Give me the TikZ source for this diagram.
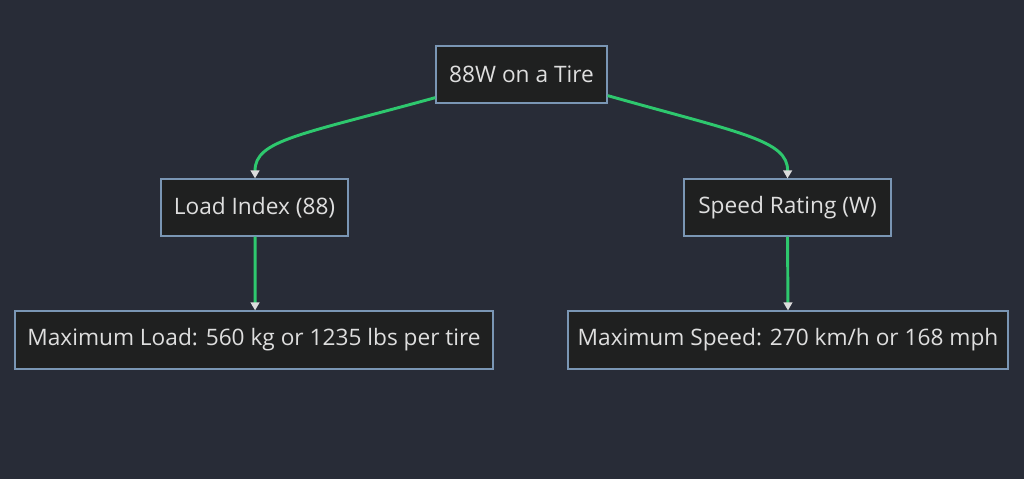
\documentclass[tikz,border=0pt]{standalone}
\usepackage{fontspec}
\setmainfont{Open Sans}
\usetikzlibrary{positioning,calc,arrows.meta}

\definecolor{bgcol}{RGB}{40,44,55}
\definecolor{boxfill}{RGB}{31,32,32}
\definecolor{boxline}{RGB}{122,150,180}
\definecolor{txtcol}{RGB}{222,222,222}
\definecolor{linkcol}{RGB}{46,200,110}
\definecolor{tipcol}{RGB}{220,220,220}

\begin{document}
\begin{tikzpicture}[x=0.75pt, y=-0.75pt]
	\fill[bgcol] (0,0) rectangle (1024,479);
	\useasboundingbox (0,0) rectangle (1024,479);
	\begin{scope}
		\tikzstyle{every node}=[align=center, inner sep=1pt]
		\tikzstyle{tbox}=[draw=boxline, fill=boxfill, line width=0.9pt, text=txtcol, font=\fontsize{17}{20}\selectfont, minimum height=42.75pt]
		\tikzstyle{link}=[draw=linkcol, line width=2.2pt, -{Triangle[color=tipcol, length=6pt, width=6.5pt]}]

		\node[tbox, minimum width=128.25pt] (tire) at (521.5, 74.5) {88W on a Tire};

		\node[tbox, minimum width=140.25pt] (load) at (254.5, 207.5) {Load Index (88)};
		\node[tbox, minimum width=155.25pt] (speed) at (787.5, 207.5) {Speed Rating (W)};

		\node[tbox, minimum width=358.5pt, minimum height=43.5pt] (maxload) at (254, 340) {Maximum Load: 560 kg or 1235 lbs per tire};
		\node[tbox, minimum width=330pt, minimum height=43.5pt] (maxspeed) at (788, 340) {Maximum Speed: 270 km/h or 168 mph};

		\draw [link] ([yshift=4.5pt]tire.south west) .. controls (300,135) and (255,140) .. ([xshift=0.4pt]load.north);
		\draw [link] ([yshift=6pt]tire.south east) .. controls (740,133) and (788,140) .. (speed.north);
		\draw [link] ([xshift=0.4pt]load.south) to ([xshift=0.8pt]maxload.north);
		\draw [link] (speed.south) to (maxspeed.north);
	\end{scope}
\end{tikzpicture}
\end{document}
